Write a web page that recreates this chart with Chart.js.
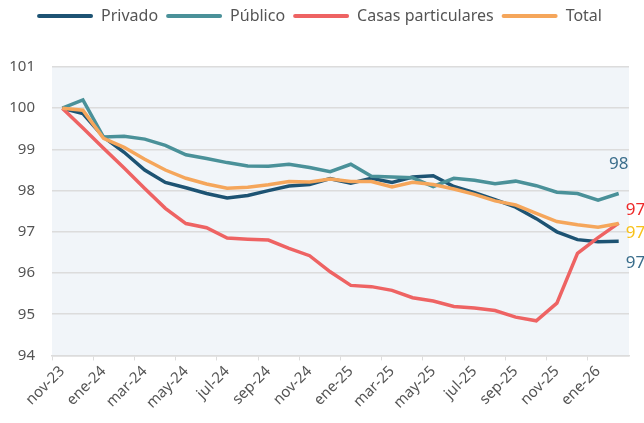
<!DOCTYPE html>
<html>
<head>
<meta charset="utf-8">
<script src="https://cdn.jsdelivr.net/npm/chart.js@4.4.1/dist/chart.umd.min.js"></script>
<style>
  html, body { margin: 0; padding: 0; background: #fff; }
  #wrap { width: 644px; height: 423px; }
</style>
</head>
<body>
<div id="wrap"><canvas id="chart"></canvas></div>
<script>
// monthly categories, nov-23 .. feb-26
const months = [
  'nov-23', 'dic-23', 'ene-24', 'feb-24', 'mar-24', 'abr-24', 'may-24', 'jun-24',
  'jul-24', 'ago-24', 'sep-24', 'oct-24', 'nov-24', 'dic-24', 'ene-25', 'feb-25',
  'mar-25', 'abr-25', 'may-25', 'jun-25', 'jul-25', 'ago-25', 'sep-25', 'oct-25',
  'nov-25', 'dic-25', 'ene-26', 'feb-26',
];

const privado = [
  100, 99.87, 99.3, 98.93, 98.5, 98.2, 98.07, 97.93, 97.82, 97.88, 98.0, 98.11, 98.15, 98.29,
  98.18, 98.3, 98.2, 98.33, 98.36, 98.1, 97.95, 97.78, 97.6, 97.32, 97.0, 96.81, 96.76, 96.77,
];

const publico = [
  100, 100.2, 99.3, 99.32, 99.25, 99.1, 98.87, 98.78, 98.68, 98.6, 98.59, 98.64, 98.56, 98.46,
  98.64, 98.35, 98.33, 98.31, 98.1, 98.3, 98.25, 98.17, 98.23, 98.12, 97.96, 97.93, 97.77, 97.93,
];

const casas = [
  100, 99.52, 99.03, 98.55, 98.05, 97.57, 97.2, 97.1, 96.85, 96.82, 96.8, 96.6, 96.42, 96.03,
  95.7, 95.67, 95.58, 95.4, 95.32, 95.19, 95.15, 95.09, 94.93, 94.84, 95.27, 96.48, 96.86, 97.21,
];

const total = [
  100, 99.95, 99.27, 99.05, 98.76, 98.5, 98.3, 98.16, 98.06, 98.08, 98.14, 98.22, 98.21, 98.28,
  98.22, 98.22, 98.09, 98.2, 98.15, 98.04, 97.91, 97.75, 97.65, 97.45, 97.25, 97.17, 97.11, 97.2,
];

const gridGray = '#dcdcdc';
const textGray = '#555';

// light panel behind the plot
const plotBackground = {
  id: 'plotBackground',
  beforeDraw(chart) {
    const { ctx, chartArea: a } = chart;
    ctx.save();
    ctx.fillStyle = '#f1f5f9';
    ctx.fillRect(a.left, a.top, a.right - a.left, a.bottom - a.top);
    ctx.restore();
  },
};

// extra space between legend and plot
const legendGap = {
  id: 'legendGap',
  beforeInit(chart) {
    const fit = chart.legend.fit;
    chart.legend.fit = function () {
      fit.bind(chart.legend)();
      this.height += 33;
    };
  },
};

// rounded value next to the last point of each line
const endLabels = {
  id: 'endLabels',
  afterDatasetsDraw(chart) {
    const { ctx } = chart;
    ctx.save();
    ctx.font = '17px "Noto Sans"';
    ctx.textBaseline = 'middle';
    chart.data.datasets.forEach((ds, i) => {
      const meta = chart.getDatasetMeta(i);
      const pt = meta.data[meta.data.length - 1];
      const v = ds.data[ds.data.length - 1];
      const o = ds.endLabel;
      ctx.fillStyle = o.color;
      ctx.textAlign = o.align;
      ctx.fillText(Math.round(v).toString(), pt.x + o.dx, pt.y + o.dy);
    });
    ctx.restore();
  },
};

const line = (label, data, color, order, endLabel) => ({
  label,
  data,
  borderColor: color,
  backgroundColor: color,
  borderWidth: 3.5,
  pointRadius: 0,
  tension: 0,
  order,
  endLabel,
});

const config = {
  type: 'line',
  data: {
    labels: months,
    datasets: [
      line('Privado', privado, '#1d5373', 4, { dx: 7, dy: 22, align: 'left', color: '#3b6e8c' }),
      line('Público', publico, '#4a9199', 3, { dx: 0, dy: -29, align: 'center', color: '#3b6e8c' }),
      line('Casas particulares', casas, '#ee6363', 2, { dx: 7, dy: -13, align: 'left', color: '#ee2a2a' }),
      line('Total', total, '#f5a65b', 1, { dx: 7, dy: 10, align: 'left', color: '#f8c21c' }),
    ],
  },
  options: {
    responsive: true,
    maintainAspectRatio: false,
    animation: false,
    layout: {
      padding: { top: 0, right: 15, left: 10, bottom: 9 },
    },
    scales: {
      x: {
        offset: true,
        // let the rotated first label hang into the left margin
        afterFit: axis => {
          axis.paddingLeft = 0;
          axis.paddingRight = 0;
        },
        grid: {
          offset: true,
          drawOnChartArea: false,
          drawTicks: true,
          tickLength: 5,
          // only every other boundary gets a tick mark
          color: ctx => (ctx.index % 2 === 0 ? gridGray : 'rgba(0,0,0,0)'),
        },
        border: { color: gridGray, width: 1.5 },
        ticks: {
          autoSkip: false,
          maxRotation: 45,
          minRotation: 45,
          color: textGray,
          font: { family: 'Noto Sans', size: 15 },
          padding: 2,
          callback: function (value, index) {
            return index % 2 === 0 ? this.getLabelForValue(value) : '';
          },
        },
      },
      y: {
        min: 94,
        max: 101,
        afterFit: axis => {
          axis.width = 42;
        },
        ticks: {
          stepSize: 1,
          color: textGray,
          font: { family: 'Noto Sans', size: 15 },
          padding: 17,
        },
        grid: { color: gridGray, lineWidth: 1.5, drawTicks: false },
        border: { display: false },
      },
    },
    plugins: {
      legend: {
        position: 'top',
        labels: {
          boxWidth: 56,
          boxHeight: 4,
          useBorderRadius: true,
          borderRadius: 2,
          color: textGray,
          font: { family: 'Noto Sans', size: 16 },
          padding: 8,
          sort: (a, b) => a.datasetIndex - b.datasetIndex,
          generateLabels: chart => {
            const items = Chart.defaults.plugins.legend.labels.generateLabels(chart);
            items.forEach(it => {
              it.lineWidth = 0;
              it.fillStyle = it.strokeStyle;
            });
            return items;
          },
        },
      },
      tooltip: { enabled: false },
    },
  },
  plugins: [plotBackground, legendGap, endLabels],
};

new Chart(document.getElementById('chart'), config);
</script>
</body>
</html>
